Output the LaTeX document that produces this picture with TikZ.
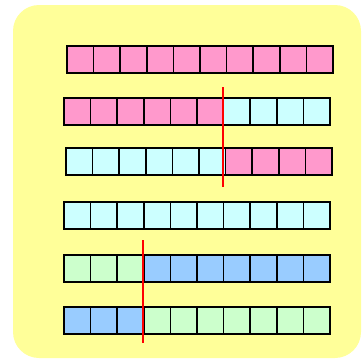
\documentclass[tikz,border=0pt]{standalone}
\definecolor{pad}{HTML}{FFFF99}
\definecolor{rose}{HTML}{FF99CC}
\definecolor{ice}{HTML}{CCFFFF}
\definecolor{mint}{HTML}{CCFFCC}
\definecolor{sky}{HTML}{99CCFF}
\begin{document}
\begin{tikzpicture}[x=1pt, y=-1pt, cell/.style={draw=black, line width=1.6pt}]
\useasboundingbox (0,0) rectangle (362,359);
\fill[pad, rounded corners=26pt](13,5) rectangle (361,358);

% each row: top, left, cells in first colour, first colour, second colour
\foreach \y/\x/\n/\ca/\cb in {46/67/10/rose/rose, 98/64/6/rose/ice, 148/66/6/ice/rose,
                              202/64/10/ice/ice, 255/64/3/mint/sky, 307/64/3/sky/mint}
{
    \foreach \i in {1,...,10}
    {
        \ifnum\i>\n \def\c{\cb}\else\def\c{\ca}\fi
        \draw[cell, fill=\c](\x+26.6*\i-26.6, \y) rectangle +(26.6,27);
    }
    \draw[line width=2pt](\x, \y) rectangle +(266,27);
}

% cut lines
\coordinate (cutA1) at (223,87);
\coordinate (cutA2) at (223,187);
\coordinate (cutB1) at (143,240);
\coordinate (cutB2) at (143,343);
\draw[red, line width=2.3pt](cutA1)--(cutA2);
\draw[red, line width=2.3pt](cutB1)--(cutB2);
\end{tikzpicture}
\end{document}
